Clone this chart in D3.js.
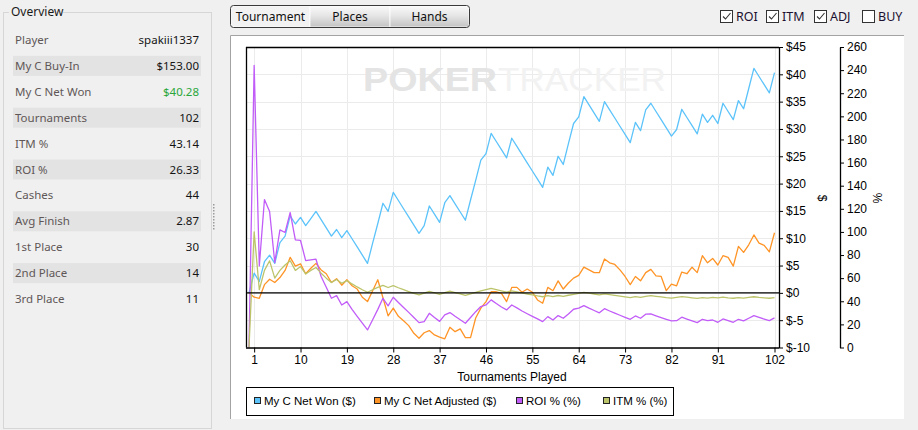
<!DOCTYPE html>
<html>
<head>
<meta charset="utf-8">
<script src="https://cdn.jsdelivr.net/npm/d3@7"></script>
<style>
	html, body { margin: 0; padding: 0; background: #f0f0f0; }
	svg { display: block; }
	text { font-family: "Liberation Sans", Arial, sans-serif; }
	.ui text { font-family: "Noto Sans", "Open Sans", sans-serif; }
</style>
</head>
<body>
<script>

// overview panel
var statLabels = ['Player', 'My C Buy-In', 'My C Net Won', 'Tournaments', 'ITM %', 'ROI %',
	'Cashes', 'Avg Finish', '1st Place', '2nd Place', '3rd Place'];
var statValues = ['spakiii1337', '$153.00', '$40.28', '102', '43.14', '26.33',
	'44', '2.87', '30', '14', '11'];

var tabNames = ['Tournament', 'Places', 'Hands'];
var checkNames = ['ROI', 'ITM', 'ADJ', 'BUY'];
var checkStates = [true, true, true, false];

// chart data, one value per tournament played (0 = start)
var netWon = [0, 3.6, 2.1, 5.7, 6.9, 5.4, 9.2, 10.4, 14.1, 12.6,
	13.8, 12.3, 13.6, 14.9, 13.4, 11.9, 10.4, 11.6, 10.1, 11.4,
	9.9, 8.4, 6.9, 5.4, 9.1, 12.7, 16.4, 14.9, 18.4, 16.9,
	15.4, 13.9, 12.4, 10.9, 12.3, 15.9, 14.4, 12.9, 16.5, 17.8,
	16.3, 14.8, 13.3, 17.0, 20.6, 24.3, 25.5, 29.2, 27.7, 26.2,
	24.7, 28.3, 26.8, 25.3, 23.8, 22.3, 20.8, 19.3, 23.0, 21.5,
	25.0, 23.5, 27.3, 31.0, 32.2, 35.9, 34.4, 32.9, 31.4, 35.0,
	33.5, 32.0, 30.5, 29.0, 27.5, 31.2, 29.7, 33.5, 34.7, 33.2,
	31.7, 30.2, 28.7, 29.9, 33.6, 32.1, 30.6, 29.1, 32.7, 31.2,
	32.5, 31.0, 34.7, 33.2, 31.7, 35.2, 33.7, 37.4, 41.1, 39.6,
	38.1, 36.6, 40.3];
var netAdjusted = [0, -0.8, -1.0, 1.5, 2.5, 1.9, 2.8, 4.1, 6.5, 4.9,
	5.3, 3.5, 4.5, 5.4, 4.2, 3.5, 1.9, 2.6, 1.4, 2.4,
	1.3, 0.7, -0.8, -1.6, 0.4, 2.4, -0.9, -4.2, -2.8, -4.3,
	-5.1, -6.0, -7.4, -8.3, -7.3, -6.9, -7.7, -8.1, -8.4, -6.3,
	-7.1, -6.6, -8.2, -8.2, -4.6, -2.8, -1.6, 0.2, 0.2, -0.1,
	-1.6, 1.0, 1.0, 0.1, 0.7, 0.1, -1.3, -1.9, 1.0, 0.4,
	2.2, 0.7, 1.8, 2.7, 3.2, 4.7, 4.2, 3.7, 3.7, 6.2,
	5.5, 5.2, 4.2, 3.0, 1.5, 3.0, 2.2, 3.7, 4.3, 3.1,
	3.0, 0.4, 1.6, 1.3, 3.8, 3.5, 4.7, 3.7, 6.8, 5.5,
	6.3, 5.1, 6.8, 6.5, 4.9, 8.5, 7.4, 8.8, 10.6, 9.1,
	8.7, 7.5, 11.0];
var roiPct = [0, 244, 70.6, 128, 117.7, 73.5, 101.8, 99.5, 116.8, 93.2,
	92.6, 75.2, 75.8, 76.4, 61.4, 52.2, 42.6, 44.9, 36.8, 39.7,
	33, 27, 21, 15.2, 24, 33, 42.6, 36, 43.5, 38.9,
	34.6, 30.4, 26, 21.5, 22.4, 29.6, 26, 22.6, 28.2, 30.2,
	27, 24, 21, 26, 31, 35.4, 36.8, 41.2, 38, 35,
	32.5, 36.8, 34.3, 31.6, 29.2, 26.9, 24.7, 22.4, 26.7, 23.8,
	27.6, 25.3, 29, 33.1, 34, 36.2, 34, 32, 30, 33.6,
	31.6, 29.7, 27.9, 26.1, 24.4, 27.3, 25.3, 28.8, 29.0, 27.4,
	25.9, 24.4, 23.0, 23.2, 26.2, 24.6, 23.0, 21.5, 24.4, 23.2,
	23.8, 21.8, 24.7, 23.2, 21.8, 24.4, 23.0, 25.3, 27.6, 26.1,
	24.6, 23.2, 25.6];
var itmPct = [0, 100, 50, 66.7, 75, 60, 66.7, 71.4, 75, 66.7,
	70, 63.6, 66.7, 69.2, 64.3, 60, 56.3, 58.8, 55.6, 57.9,
	55, 52.4, 50, 47.8, 50, 52, 53.8, 51.9, 53.6, 51.7,
	50, 48.4, 46.9, 45.5, 47.1, 48.6, 47.2, 45.9, 47.4, 48.7,
	47.5, 46.3, 45.2, 46.5, 47.7, 48.9, 50, 51.1, 50, 49,
	48, 49, 48.1, 47.2, 46.3, 45.5, 44.6, 43.9, 44.8, 44.1,
	45, 44.3, 45.2, 46, 46.9, 47.7, 47, 46.3, 45.6, 46.4,
	45.7, 45.1, 44.4, 43.8, 43.2, 44, 43.4, 44.2, 44.9, 44.3,
	43.8, 43.2, 42.7, 43.4, 44, 43.5, 43, 42.5, 43.2, 42.7,
	43.3, 42.9, 43.5, 43, 42.6, 43.2, 42.7, 43.3, 43.9, 43.4,
	43, 42.6, 43.1];

var xTicks = [1, 10, 19, 28, 37, 46, 55, 64, 73, 82, 91, 102];
var dollarTicks = [-10, -5, 0, 5, 10, 15, 20, 25, 30, 35, 40, 45];
var pctTicks = [0, 20, 40, 60, 80, 100, 120, 140, 160, 180, 200, 220, 240, 260];

var seriesNames = ['My C Net Won ($)', 'My C Net Adjusted ($)', 'ROI % (%)', 'ITM % (%)'];
var seriesColors = ['#5cc3fa', '#ff9426', '#c15cf8', '#bcc46a'];

var W = 918, H = 430;
var svg = d3.select('body').append('svg').attr('width', W).attr('height', H);
var defs = svg.append('defs');

var grad = defs.append('linearGradient').attr('id', 'tabgrad')
	.attr('x1', 0).attr('y1', 0).attr('x2', 0).attr('y2', 1);
grad.append('stop').attr('offset', '0%').attr('stop-color', '#fafafa');
grad.append('stop').attr('offset', '45%').attr('stop-color', '#e6e6e6');
grad.append('stop').attr('offset', '100%').attr('stop-color', '#c4c4c4');

//overview group box
var ui = svg.append('g').attr('class', 'ui');
ui.append('rect')
	.attr('x', 3.5).attr('y', 12.5).attr('width', 208).attr('height', 416)
	.attr('fill', 'none').attr('stroke', '#d6d6d6');
ui.append('rect')
	.attr('x', 9).attr('y', 4).attr('width', 54).attr('height', 16)
	.attr('fill', '#f0f0f0');
ui.append('text')
	.attr('x', 11).attr('y', 12).attr('dy', '0.35em')
	.attr('font-size', 12).attr('fill', '#1a1a1a')
	.text('Overview');

var rowY = d3.scaleLinear().domain([0, 10]).range([40, 299]);
statLabels.forEach(function(lbl, i){
	if(i % 2 == 1)
		ui.append('rect')
			.attr('x', 13).attr('y', rowY(i) - 10).attr('width', 188).attr('height', 20)
			.attr('fill', '#e3e3e3');
	ui.append('text')
		.attr('x', 15).attr('y', rowY(i)).attr('dy', '0.35em')
		.attr('font-size', 11.5).attr('fill', '#5f5757')
		.text(lbl);
	ui.append('text')
		.attr('x', 199).attr('y', rowY(i)).attr('dy', '0.35em')
		.attr('text-anchor', 'end')
		.attr('font-size', 11.5)
		.attr('fill', i == 2 ? '#2aa63a' : '#141414')
		.text(statValues[i]);
});

// splitter grip
d3.range(9).forEach(function(k){
	ui.append('rect')
		.attr('x', 213).attr('y', 204 + k * 3).attr('width', 1.5).attr('height', 1.5)
		.attr('fill', '#9a9a9a');
});

// tabs
var tabX = [231, 310, 390, 469];
tabNames.forEach(function(name, i){
	ui.append('rect')
		.attr('x', tabX[i]).attr('y', 6).attr('width', tabX[i+1] - tabX[i]).attr('height', 21)
		.attr('fill', i == 0 ? '#f2f2f2' : 'url(#tabgrad)')
		.attr('stroke', '#ffffff').attr('stroke-width', 0.8);
	ui.append('text')
		.attr('x', (tabX[i] + tabX[i+1]) / 2).attr('y', 16.5).attr('dy', '0.35em')
		.attr('text-anchor', 'middle').attr('font-size', 12).attr('fill', '#111')
		.text(name);
});
ui.append('rect')
	.attr('x', 230.5).attr('y', 5.5).attr('width', 239).attr('height', 22).attr('rx', 3)
	.attr('fill', 'none').attr('stroke', '#3a3a3a');

// check boxes
var checkX = [720, 766, 814, 862];
checkNames.forEach(function(name, i){
	ui.append('rect')
		.attr('x', checkX[i] + 0.5).attr('y', 10.5).attr('width', 12).attr('height', 12)
		.attr('fill', '#fff').attr('stroke', '#333');
	if(checkStates[i])
		ui.append('path')
			.attr('d', 'M' + (checkX[i] + 3) + ',16.5 L' + (checkX[i] + 5.5) + ',19 L' + (checkX[i] + 10.5) + ',13')
			.attr('fill', 'none').attr('stroke', '#333').attr('stroke-width', 1.1);
	ui.append('text')
		.attr('x', checkX[i] + 16).attr('y', 16.5).attr('dy', '0.35em')
		.attr('font-size', 12.5).attr('fill', '#1c1030')
		.text(name);
});

// chart panel, border on left and top only
svg.append('rect')
	.attr('x', 230).attr('y', 35).attr('width', 674).attr('height', 384)
	.attr('fill', '#fff');
svg.append('path')
	.attr('d', 'M230.5,419V35.5H904')
	.attr('fill', 'none').attr('stroke', '#a3a3a3');

var plot = { left: 246, right: 779, top: 47, bottom: 347.5 };
var x = d3.scaleLinear().domain([0, 102]).range([249, 774.5]);
var yD = d3.scaleLinear().domain([-10, 45]).range([plot.bottom, plot.top]);
var yP = d3.scaleLinear().domain([0, 260]).range([plot.bottom, plot.top]);

// grid
var grid = svg.append('g').attr('stroke', '#ebebeb').attr('stroke-width', 1);
dollarTicks.forEach(function(v){
	grid.append('line')
		.attr('x1', plot.left).attr('x2', plot.right)
		.attr('y1', Math.round(yD(v)) + 0.5).attr('y2', Math.round(yD(v)) + 0.5);
});
xTicks.forEach(function(v){
	grid.append('line')
		.attr('x1', Math.round(x(v)) + 0.5).attr('x2', Math.round(x(v)) + 0.5)
		.attr('y1', plot.top).attr('y2', plot.bottom);
});

// watermark
svg.append('text')
	.attr('x', 363).attr('y', 91)
	.attr('font-size', 33).attr('font-weight', 'bold').attr('fill', '#e4e4e4')
	.attr('textLength', 134).attr('lengthAdjust', 'spacingAndGlyphs')
	.text('POKER');
svg.append('text')
	.attr('x', 498).attr('y', 91)
	.attr('font-size', 33).attr('fill', '#f2f2f2')
	.attr('textLength', 168).attr('lengthAdjust', 'spacingAndGlyphs')
	.text('TRACKER');

// frame
svg.append('line')
	.attr('x1', plot.left + 0.5).attr('x2', plot.left + 0.5)
	.attr('y1', plot.top).attr('y2', plot.bottom)
	.attr('stroke', '#000').attr('stroke-width', 1.3);
svg.append('line')
	.attr('x1', plot.left).attr('x2', plot.right)
	.attr('y1', plot.top + 0.5).attr('y2', plot.top + 0.5)
	.attr('stroke', '#000').attr('stroke-width', 1.3);

// series
var idx = d3.range(netWon.length);
var lines = [
	{ vals: netWon, y: yD },
	{ vals: netAdjusted, y: yD },
	{ vals: roiPct, y: yP },
	{ vals: itmPct, y: yP }
];
lines.forEach(function(s, k){
	var gen = d3.line()
		.x(function(i){ return x(i); })
		.y(function(i){ return s.y(s.vals[i]); });
	svg.append('path')
		.datum(idx)
		.attr('d', gen)
		.attr('fill', 'none')
		.attr('stroke', seriesColors[k])
		.attr('stroke-width', 1.3)
		.attr('stroke-linejoin', 'round');
});

// zero line
svg.append('line')
	.attr('x1', plot.left).attr('x2', plot.right)
	.attr('y1', yD(0)).attr('y2', yD(0))
	.attr('stroke', '#000').attr('stroke-width', 1.3);

function styleAxis(g)
{
	g.select('.domain').attr('stroke', '#000').attr('stroke-width', 1.3);
	g.selectAll('.tick line').attr('stroke', '#000');
	g.selectAll('.tick text').attr('fill', '#000')
		.attr('font-family', '"Liberation Sans", Arial, sans-serif').attr('font-size', 12);
}

// bottom axis
var gx = svg.append('g')
	.attr('transform', 'translate(0,' + plot.bottom + ')')
	.call(d3.axisBottom(x).tickValues(xTicks).tickSize(5).tickPadding(3).tickSizeOuter(0));
gx.select('.domain').attr('d', 'M' + plot.left + ',0.5H' + plot.right);
styleAxis(gx);

svg.append('text')
	.attr('x', 512).attr('y', 377).attr('dy', '0.35em')
	.attr('text-anchor', 'middle').attr('font-size', 12)
	.text('Tournaments Played');

// $ axis
var gd = svg.append('g')
	.attr('transform', 'translate(' + plot.right + ',0)')
	.call(d3.axisRight(yD).tickValues(dollarTicks).tickSize(4).tickPadding(3).tickSizeOuter(0)
		.tickFormat(function(d){ return '$' + d; }));
styleAxis(gd);
svg.append('text')
	.attr('transform', 'translate(822,198) rotate(90)')
	.attr('text-anchor', 'middle').attr('dy', '0.35em').attr('font-size', 12)
	.text('$');

// % axis
var gp = svg.append('g')
	.attr('transform', 'translate(840,0)')
	.call(d3.axisRight(yP).tickValues(pctTicks).tickSize(4).tickPadding(3).tickSizeOuter(0));
styleAxis(gp);
svg.append('text')
	.attr('transform', 'translate(877,198) rotate(90)')
	.attr('text-anchor', 'middle').attr('dy', '0.35em').attr('font-size', 12)
	.text('%');

// legend
var legX = [254, 374, 516, 603];
svg.append('rect')
	.attr('x', 246.5).attr('y', 387.5).attr('width', 427).attr('height', 28)
	.attr('fill', '#fff').attr('stroke', '#000');
seriesNames.forEach(function(name, k){
	svg.append('rect')
		.attr('x', legX[k] + 0.5).attr('y', 397.5).attr('width', 6).attr('height', 6)
		.attr('fill', seriesColors[k]).attr('stroke', '#222');
	svg.append('text')
		.attr('x', legX[k] + 10).attr('y', 401).attr('dy', '0.35em')
		.attr('font-size', 11.5).attr('fill', '#000')
		.text(name);
});

</script>
</body>
</html>
